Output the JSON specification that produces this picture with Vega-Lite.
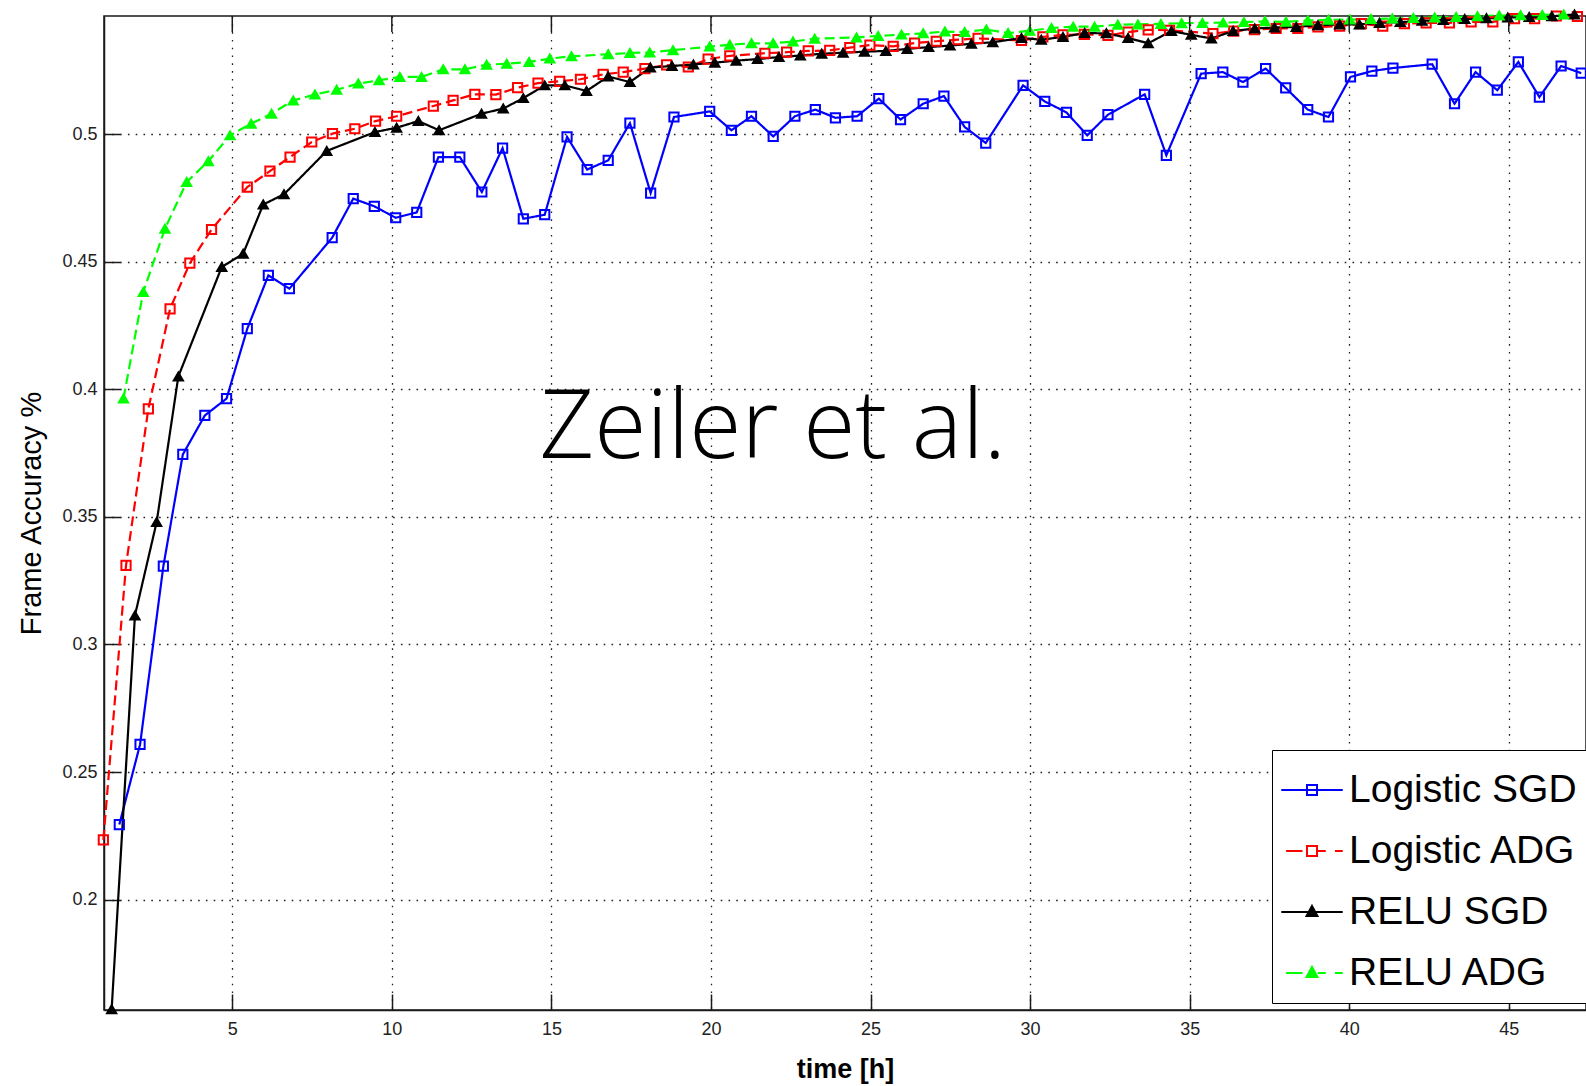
{
  "$schema": "https://vega.github.io/schema/vega-lite/v6.json",
  "width": 1482,
  "height": 994,
  "autosize": {"type": "none"},
  "padding": {"left": 104, "top": 16, "right": 0, "bottom": 76},
  "background": "white",
  "config": {
    "font": "Liberation Sans",
    "view": {"stroke": "#1a1a1a", "strokeWidth": 1.5},
    "axis": {
      "labelFont": "Liberation Sans", "labelFontSize": 18, "labelColor": "#222",
      "titleFont": "Liberation Sans", "titleColor": "#000",
      "domainColor": "#1a1a1a", "domainWidth": 1.5,
      "tickColor": "#1a1a1a", "tickWidth": 1.5,
      "gridColor": "#222", "gridDash": [1.6, 6.2], "gridWidth": 1.3, "gridOpacity": 1
    }
  },
  "resolve": {"scale": {"shape": "independent", "fill": "independent", "stroke": "independent"}},
  "datasets": {
    "note": [{"t": 21.94, "a": 0.3733, "label": "Zeiler et al."}],
    "xticks": [{"t": 5}, {"t": 10}, {"t": 15}, {"t": 20}, {"t": 25}, {"t": 30}, {"t": 35}, {"t": 40}, {"t": 45}],
    "acc": [
      {"s": "Logistic SGD", "t": 1.46, "a": 0.2294},
      {"s": "Logistic SGD", "t": 2.11, "a": 0.2608},
      {"s": "Logistic SGD", "t": 2.84, "a": 0.3307},
      {"s": "Logistic SGD", "t": 3.45, "a": 0.3745},
      {"s": "Logistic SGD", "t": 4.14, "a": 0.3898},
      {"s": "Logistic SGD", "t": 4.82, "a": 0.3964},
      {"s": "Logistic SGD", "t": 5.47, "a": 0.4238},
      {"s": "Logistic SGD", "t": 6.13, "a": 0.4447},
      {"s": "Logistic SGD", "t": 6.79, "a": 0.4395},
      {"s": "Logistic SGD", "t": 8.13, "a": 0.4595},
      {"s": "Logistic SGD", "t": 8.79, "a": 0.4748},
      {"s": "Logistic SGD", "t": 9.45, "a": 0.4718},
      {"s": "Logistic SGD", "t": 10.12, "a": 0.4673},
      {"s": "Logistic SGD", "t": 10.78, "a": 0.4694},
      {"s": "Logistic SGD", "t": 11.46, "a": 0.4911},
      {"s": "Logistic SGD", "t": 12.13, "a": 0.4911},
      {"s": "Logistic SGD", "t": 12.82, "a": 0.4774},
      {"s": "Logistic SGD", "t": 13.47, "a": 0.4946},
      {"s": "Logistic SGD", "t": 14.12, "a": 0.4669},
      {"s": "Logistic SGD", "t": 14.79, "a": 0.4685},
      {"s": "Logistic SGD", "t": 15.49, "a": 0.499},
      {"s": "Logistic SGD", "t": 16.12, "a": 0.4862},
      {"s": "Logistic SGD", "t": 16.78, "a": 0.4898},
      {"s": "Logistic SGD", "t": 17.46, "a": 0.5044},
      {"s": "Logistic SGD", "t": 18.11, "a": 0.477},
      {"s": "Logistic SGD", "t": 18.84, "a": 0.5068},
      {"s": "Logistic SGD", "t": 19.96, "a": 0.509},
      {"s": "Logistic SGD", "t": 20.64, "a": 0.5016},
      {"s": "Logistic SGD", "t": 21.27, "a": 0.5071},
      {"s": "Logistic SGD", "t": 21.95, "a": 0.4992},
      {"s": "Logistic SGD", "t": 22.63, "a": 0.5071},
      {"s": "Logistic SGD", "t": 23.27, "a": 0.5097},
      {"s": "Logistic SGD", "t": 23.9, "a": 0.5065},
      {"s": "Logistic SGD", "t": 24.58, "a": 0.5071},
      {"s": "Logistic SGD", "t": 25.26, "a": 0.514},
      {"s": "Logistic SGD", "t": 25.94, "a": 0.5058},
      {"s": "Logistic SGD", "t": 26.65, "a": 0.512},
      {"s": "Logistic SGD", "t": 27.3, "a": 0.515},
      {"s": "Logistic SGD", "t": 27.95, "a": 0.5029},
      {"s": "Logistic SGD", "t": 28.61, "a": 0.4966},
      {"s": "Logistic SGD", "t": 29.78, "a": 0.5192},
      {"s": "Logistic SGD", "t": 30.46, "a": 0.5129},
      {"s": "Logistic SGD", "t": 31.14, "a": 0.5086},
      {"s": "Logistic SGD", "t": 31.79, "a": 0.4996},
      {"s": "Logistic SGD", "t": 32.44, "a": 0.5077},
      {"s": "Logistic SGD", "t": 33.59, "a": 0.5157},
      {"s": "Logistic SGD", "t": 34.27, "a": 0.4918},
      {"s": "Logistic SGD", "t": 35.36, "a": 0.5238},
      {"s": "Logistic SGD", "t": 36.04, "a": 0.5244},
      {"s": "Logistic SGD", "t": 36.67, "a": 0.5205},
      {"s": "Logistic SGD", "t": 37.38, "a": 0.5258},
      {"s": "Logistic SGD", "t": 38.01, "a": 0.5182},
      {"s": "Logistic SGD", "t": 38.7, "a": 0.5097},
      {"s": "Logistic SGD", "t": 39.35, "a": 0.5068},
      {"s": "Logistic SGD", "t": 40.04, "a": 0.5225},
      {"s": "Logistic SGD", "t": 40.71, "a": 0.5248},
      {"s": "Logistic SGD", "t": 41.37, "a": 0.526},
      {"s": "Logistic SGD", "t": 42.6, "a": 0.5275},
      {"s": "Logistic SGD", "t": 43.3, "a": 0.512},
      {"s": "Logistic SGD", "t": 43.96, "a": 0.5244},
      {"s": "Logistic SGD", "t": 44.64, "a": 0.5173},
      {"s": "Logistic SGD", "t": 45.3, "a": 0.5284},
      {"s": "Logistic SGD", "t": 45.96, "a": 0.5146},
      {"s": "Logistic SGD", "t": 46.64, "a": 0.5268},
      {"s": "Logistic SGD", "t": 47.27, "a": 0.524},

      {"s": "Logistic ADG", "t": 0.96, "a": 0.2234},
      {"s": "Logistic ADG", "t": 1.67, "a": 0.331},
      {"s": "Logistic ADG", "t": 2.37, "a": 0.3924},
      {"s": "Logistic ADG", "t": 3.05, "a": 0.4316},
      {"s": "Logistic ADG", "t": 3.67, "a": 0.4495},
      {"s": "Logistic ADG", "t": 4.35, "a": 0.4627},
      {"s": "Logistic ADG", "t": 5.47, "a": 0.4793},
      {"s": "Logistic ADG", "t": 6.18, "a": 0.4856},
      {"s": "Logistic ADG", "t": 6.81, "a": 0.4911},
      {"s": "Logistic ADG", "t": 7.49, "a": 0.497},
      {"s": "Logistic ADG", "t": 8.14, "a": 0.5003},
      {"s": "Logistic ADG", "t": 8.84, "a": 0.5022},
      {"s": "Logistic ADG", "t": 9.49, "a": 0.5052},
      {"s": "Logistic ADG", "t": 10.15, "a": 0.5071},
      {"s": "Logistic ADG", "t": 11.3, "a": 0.5111},
      {"s": "Logistic ADG", "t": 11.92, "a": 0.5133},
      {"s": "Logistic ADG", "t": 12.6, "a": 0.5157},
      {"s": "Logistic ADG", "t": 13.26, "a": 0.5156},
      {"s": "Logistic ADG", "t": 13.94, "a": 0.5183},
      {"s": "Logistic ADG", "t": 14.58, "a": 0.5201},
      {"s": "Logistic ADG", "t": 15.26, "a": 0.5208},
      {"s": "Logistic ADG", "t": 15.91, "a": 0.5216},
      {"s": "Logistic ADG", "t": 16.62, "a": 0.5235},
      {"s": "Logistic ADG", "t": 17.25, "a": 0.5244},
      {"s": "Logistic ADG", "t": 17.93, "a": 0.5258},
      {"s": "Logistic ADG", "t": 18.61, "a": 0.5272},
      {"s": "Logistic ADG", "t": 19.29, "a": 0.5264},
      {"s": "Logistic ADG", "t": 19.91, "a": 0.5295},
      {"s": "Logistic ADG", "t": 20.59, "a": 0.5308},
      {"s": "Logistic ADG", "t": 21.69, "a": 0.5318},
      {"s": "Logistic ADG", "t": 22.37, "a": 0.5322},
      {"s": "Logistic ADG", "t": 23.05, "a": 0.5327},
      {"s": "Logistic ADG", "t": 23.72, "a": 0.5329},
      {"s": "Logistic ADG", "t": 24.35, "a": 0.534},
      {"s": "Logistic ADG", "t": 24.98, "a": 0.535},
      {"s": "Logistic ADG", "t": 25.71, "a": 0.5345},
      {"s": "Logistic ADG", "t": 26.38, "a": 0.5358},
      {"s": "Logistic ADG", "t": 27.06, "a": 0.5365},
      {"s": "Logistic ADG", "t": 27.74, "a": 0.5371},
      {"s": "Logistic ADG", "t": 28.37, "a": 0.5376},
      {"s": "Logistic ADG", "t": 29.73, "a": 0.5368},
      {"s": "Logistic ADG", "t": 30.4, "a": 0.5382},
      {"s": "Logistic ADG", "t": 31.03, "a": 0.539},
      {"s": "Logistic ADG", "t": 31.7, "a": 0.5392},
      {"s": "Logistic ADG", "t": 32.44, "a": 0.5388},
      {"s": "Logistic ADG", "t": 33.07, "a": 0.5401},
      {"s": "Logistic ADG", "t": 33.7, "a": 0.541},
      {"s": "Logistic ADG", "t": 34.37, "a": 0.5408},
      {"s": "Logistic ADG", "t": 35.73, "a": 0.5395},
      {"s": "Logistic ADG", "t": 36.38, "a": 0.5405},
      {"s": "Logistic ADG", "t": 37.03, "a": 0.5411},
      {"s": "Logistic ADG", "t": 37.71, "a": 0.5415},
      {"s": "Logistic ADG", "t": 38.39, "a": 0.5415},
      {"s": "Logistic ADG", "t": 39.02, "a": 0.5421},
      {"s": "Logistic ADG", "t": 39.7, "a": 0.5424},
      {"s": "Logistic ADG", "t": 40.38, "a": 0.5434},
      {"s": "Logistic ADG", "t": 41.05, "a": 0.5424},
      {"s": "Logistic ADG", "t": 41.73, "a": 0.5434},
      {"s": "Logistic ADG", "t": 42.41, "a": 0.5437},
      {"s": "Logistic ADG", "t": 43.14, "a": 0.5437},
      {"s": "Logistic ADG", "t": 43.82, "a": 0.5441},
      {"s": "Logistic ADG", "t": 44.5, "a": 0.5441},
      {"s": "Logistic ADG", "t": 45.18, "a": 0.5454},
      {"s": "Logistic ADG", "t": 45.81, "a": 0.5454},
      {"s": "Logistic ADG", "t": 46.49, "a": 0.5464},
      {"s": "Logistic ADG", "t": 47.15, "a": 0.5462},

      {"s": "RELU SGD", "t": 1.22, "a": 0.157},
      {"s": "RELU SGD", "t": 1.95, "a": 0.3114},
      {"s": "RELU SGD", "t": 2.63, "a": 0.348},
      {"s": "RELU SGD", "t": 3.31, "a": 0.4051},
      {"s": "RELU SGD", "t": 4.67, "a": 0.448},
      {"s": "RELU SGD", "t": 5.34, "a": 0.4532},
      {"s": "RELU SGD", "t": 5.97, "a": 0.4725},
      {"s": "RELU SGD", "t": 6.62, "a": 0.4765},
      {"s": "RELU SGD", "t": 7.96, "a": 0.4935},
      {"s": "RELU SGD", "t": 9.47, "a": 0.5009},
      {"s": "RELU SGD", "t": 10.15, "a": 0.5026},
      {"s": "RELU SGD", "t": 10.83, "a": 0.5052},
      {"s": "RELU SGD", "t": 11.48, "a": 0.5016},
      {"s": "RELU SGD", "t": 12.81, "a": 0.5081},
      {"s": "RELU SGD", "t": 13.49, "a": 0.5101},
      {"s": "RELU SGD", "t": 14.12, "a": 0.5142},
      {"s": "RELU SGD", "t": 14.79, "a": 0.5192},
      {"s": "RELU SGD", "t": 15.42, "a": 0.5192},
      {"s": "RELU SGD", "t": 16.1, "a": 0.517},
      {"s": "RELU SGD", "t": 16.78, "a": 0.5227},
      {"s": "RELU SGD", "t": 17.46, "a": 0.5205},
      {"s": "RELU SGD", "t": 18.1, "a": 0.5262},
      {"s": "RELU SGD", "t": 18.78, "a": 0.5268},
      {"s": "RELU SGD", "t": 19.45, "a": 0.5274},
      {"s": "RELU SGD", "t": 20.12, "a": 0.5281},
      {"s": "RELU SGD", "t": 20.79, "a": 0.5289},
      {"s": "RELU SGD", "t": 21.46, "a": 0.5295},
      {"s": "RELU SGD", "t": 22.13, "a": 0.5303},
      {"s": "RELU SGD", "t": 22.8, "a": 0.5309},
      {"s": "RELU SGD", "t": 23.47, "a": 0.5316},
      {"s": "RELU SGD", "t": 24.14, "a": 0.532},
      {"s": "RELU SGD", "t": 24.81, "a": 0.5324},
      {"s": "RELU SGD", "t": 25.48, "a": 0.5327},
      {"s": "RELU SGD", "t": 26.15, "a": 0.5335},
      {"s": "RELU SGD", "t": 26.82, "a": 0.5342},
      {"s": "RELU SGD", "t": 27.49, "a": 0.5348},
      {"s": "RELU SGD", "t": 28.16, "a": 0.5355},
      {"s": "RELU SGD", "t": 28.83, "a": 0.5361},
      {"s": "RELU SGD", "t": 29.73, "a": 0.5378},
      {"s": "RELU SGD", "t": 30.35, "a": 0.5371},
      {"s": "RELU SGD", "t": 31.03, "a": 0.5382},
      {"s": "RELU SGD", "t": 31.71, "a": 0.5397},
      {"s": "RELU SGD", "t": 32.39, "a": 0.5396},
      {"s": "RELU SGD", "t": 33.07, "a": 0.5378},
      {"s": "RELU SGD", "t": 33.7, "a": 0.5357},
      {"s": "RELU SGD", "t": 34.43, "a": 0.5405},
      {"s": "RELU SGD", "t": 35.05, "a": 0.539},
      {"s": "RELU SGD", "t": 35.68, "a": 0.5376},
      {"s": "RELU SGD", "t": 36.36, "a": 0.5405},
      {"s": "RELU SGD", "t": 37.04, "a": 0.5415},
      {"s": "RELU SGD", "t": 37.66, "a": 0.5419},
      {"s": "RELU SGD", "t": 38.34, "a": 0.5421},
      {"s": "RELU SGD", "t": 39.02, "a": 0.5428},
      {"s": "RELU SGD", "t": 39.7, "a": 0.5431},
      {"s": "RELU SGD", "t": 40.32, "a": 0.5431},
      {"s": "RELU SGD", "t": 40.95, "a": 0.5437},
      {"s": "RELU SGD", "t": 41.6, "a": 0.544},
      {"s": "RELU SGD", "t": 42.28, "a": 0.5445},
      {"s": "RELU SGD", "t": 42.95, "a": 0.5448},
      {"s": "RELU SGD", "t": 43.62, "a": 0.5452},
      {"s": "RELU SGD", "t": 44.3, "a": 0.5455},
      {"s": "RELU SGD", "t": 44.97, "a": 0.5458},
      {"s": "RELU SGD", "t": 45.64, "a": 0.546},
      {"s": "RELU SGD", "t": 46.35, "a": 0.5463},
      {"s": "RELU SGD", "t": 47.06, "a": 0.547},

      {"s": "RELU ADG", "t": 1.59, "a": 0.3964},
      {"s": "RELU ADG", "t": 2.21, "a": 0.4382},
      {"s": "RELU ADG", "t": 2.89, "a": 0.463},
      {"s": "RELU ADG", "t": 3.57, "a": 0.4813},
      {"s": "RELU ADG", "t": 4.25, "a": 0.4895},
      {"s": "RELU ADG", "t": 4.93, "a": 0.4996},
      {"s": "RELU ADG", "t": 5.59, "a": 0.5042},
      {"s": "RELU ADG", "t": 6.23, "a": 0.5081},
      {"s": "RELU ADG", "t": 6.91, "a": 0.5133},
      {"s": "RELU ADG", "t": 7.59, "a": 0.5156},
      {"s": "RELU ADG", "t": 8.27, "a": 0.5175},
      {"s": "RELU ADG", "t": 8.95, "a": 0.5199},
      {"s": "RELU ADG", "t": 9.6, "a": 0.5212},
      {"s": "RELU ADG", "t": 10.25, "a": 0.5225},
      {"s": "RELU ADG", "t": 10.93, "a": 0.5225},
      {"s": "RELU ADG", "t": 11.61, "a": 0.5255},
      {"s": "RELU ADG", "t": 12.29, "a": 0.5255},
      {"s": "RELU ADG", "t": 12.97, "a": 0.5273},
      {"s": "RELU ADG", "t": 13.6, "a": 0.5277},
      {"s": "RELU ADG", "t": 14.3, "a": 0.5284},
      {"s": "RELU ADG", "t": 14.95, "a": 0.5297},
      {"s": "RELU ADG", "t": 15.63, "a": 0.5306},
      {"s": "RELU ADG", "t": 16.78, "a": 0.5314},
      {"s": "RELU ADG", "t": 17.46, "a": 0.5319},
      {"s": "RELU ADG", "t": 18.08, "a": 0.5321},
      {"s": "RELU ADG", "t": 18.81, "a": 0.533},
      {"s": "RELU ADG", "t": 19.96, "a": 0.5344},
      {"s": "RELU ADG", "t": 20.59, "a": 0.5351},
      {"s": "RELU ADG", "t": 21.27, "a": 0.5357},
      {"s": "RELU ADG", "t": 21.95, "a": 0.5357},
      {"s": "RELU ADG", "t": 22.57, "a": 0.5364},
      {"s": "RELU ADG", "t": 23.25, "a": 0.5375},
      {"s": "RELU ADG", "t": 24.56, "a": 0.538},
      {"s": "RELU ADG", "t": 25.24, "a": 0.5386},
      {"s": "RELU ADG", "t": 25.97, "a": 0.5391},
      {"s": "RELU ADG", "t": 26.65, "a": 0.5396},
      {"s": "RELU ADG", "t": 27.33, "a": 0.5403},
      {"s": "RELU ADG", "t": 27.95, "a": 0.5401},
      {"s": "RELU ADG", "t": 28.63, "a": 0.5411},
      {"s": "RELU ADG", "t": 29.31, "a": 0.5397},
      {"s": "RELU ADG", "t": 29.99, "a": 0.5406},
      {"s": "RELU ADG", "t": 30.67, "a": 0.5417},
      {"s": "RELU ADG", "t": 31.35, "a": 0.5422},
      {"s": "RELU ADG", "t": 32.02, "a": 0.5422},
      {"s": "RELU ADG", "t": 32.75, "a": 0.543},
      {"s": "RELU ADG", "t": 33.38, "a": 0.5431},
      {"s": "RELU ADG", "t": 34.1, "a": 0.5433},
      {"s": "RELU ADG", "t": 34.75, "a": 0.5436},
      {"s": "RELU ADG", "t": 35.4, "a": 0.5437},
      {"s": "RELU ADG", "t": 36.05, "a": 0.5438},
      {"s": "RELU ADG", "t": 36.7, "a": 0.544},
      {"s": "RELU ADG", "t": 37.36, "a": 0.5443},
      {"s": "RELU ADG", "t": 38.02, "a": 0.5441},
      {"s": "RELU ADG", "t": 38.7, "a": 0.5446},
      {"s": "RELU ADG", "t": 39.35, "a": 0.5449},
      {"s": "RELU ADG", "t": 40.02, "a": 0.545},
      {"s": "RELU ADG", "t": 40.68, "a": 0.5452},
      {"s": "RELU ADG", "t": 41.35, "a": 0.5454},
      {"s": "RELU ADG", "t": 42.01, "a": 0.5456},
      {"s": "RELU ADG", "t": 42.68, "a": 0.5458},
      {"s": "RELU ADG", "t": 43.35, "a": 0.546},
      {"s": "RELU ADG", "t": 44.02, "a": 0.5463},
      {"s": "RELU ADG", "t": 44.7, "a": 0.5466},
      {"s": "RELU ADG", "t": 45.37, "a": 0.5467},
      {"s": "RELU ADG", "t": 46.05, "a": 0.5468},
      {"s": "RELU ADG", "t": 46.72, "a": 0.547}
    ]
  },
  "layer": [
    {
      "data": {"name": "acc"},
      "mark": {"type": "line", "strokeWidth": 2.2, "clip": false},
      "encoding": {
        "x": {"field": "t", "type": "quantitative", "scale": {"domain": [0.98, 47.42], "nice": false, "zero": false},
          "axis": {"orient": "bottom", "values": [5, 10, 15, 20, 25, 30, 35, 40, 45], "format": "d", "tickSize": -16, "labelPadding": 26, "title": "time [h]", "titleFontSize": 27, "titleFontWeight": "bold", "titlePadding": 18, "grid": true, "labelFlush": false, "labelOverlap": false}},
        "y": {"field": "a", "type": "quantitative", "scale": {"domain": [0.1567, 0.5464], "nice": false, "zero": false},
          "axis": {"orient": "left", "values": [0.2, 0.25, 0.3, 0.35, 0.4, 0.45, 0.5], "format": "~g", "tickSize": -16, "labelPadding": 23, "title": "Frame Accuracy %", "titleFontSize": 29, "titleFontWeight": "normal", "titlePadding": 15, "grid": true, "labelFlush": false, "labelOverlap": false}},
        "color": {"field": "s", "type": "nominal",
          "scale": {"domain": ["Logistic SGD", "Logistic ADG", "RELU SGD", "RELU ADG"], "range": ["#0000ff", "#ff0000", "#000000", "#00ff00"]},
          "legend": null},
        "strokeDash": {"field": "s", "type": "nominal",
          "scale": {"domain": ["Logistic SGD", "Logistic ADG", "RELU SGD", "RELU ADG"], "range": [[1, 0], [10, 5], [1, 0], [10, 5]]},
          "legend": null},
        "order": {"field": "t", "type": "quantitative"}
      }
    },
    {
      "data": {"name": "acc"},
      "mark": {"type": "point", "size": 85, "strokeWidth": 2, "opacity": 1, "clip": false},
      "encoding": {
        "x": {"field": "t", "type": "quantitative"},
        "y": {"field": "a", "type": "quantitative"},
        "shape": {"field": "s", "type": "nominal",
          "scale": {"domain": ["Logistic SGD", "Logistic ADG", "RELU SGD", "RELU ADG"], "range": ["square", "square", "triangle-up", "triangle-up"]},
          "legend": null},
        "stroke": {"field": "s", "type": "nominal",
          "scale": {"domain": ["Logistic SGD", "Logistic ADG", "RELU SGD", "RELU ADG"], "range": ["#0000ff", "#ff0000", "#000000", "#00ff00"]},
          "legend": null},
        "fill": {"field": "s", "type": "nominal",
          "scale": {"domain": ["Logistic SGD", "Logistic ADG", "RELU SGD", "RELU ADG"], "range": ["transparent", "transparent", "#000000", "#00ff00"]},
          "legend": null}
      }
    },
    {
      "data": {"name": "xticks"},
      "mark": {"type": "rule", "color": "#1a1a1a", "strokeWidth": 1.5},
      "encoding": {
        "x": {"field": "t", "type": "quantitative"},
        "y": {"datum": 0.5464, "type": "quantitative"},
        "y2": {"datum": 0.54013}
      }
    },
    {
      "data": {"name": "note"},
      "mark": {"type": "text", "font": "Open Sans", "fontWeight": 300, "fontSize": 95, "color": "#000", "align": "center", "baseline": "alphabetic"},
      "encoding": {
        "x": {"field": "t", "type": "quantitative"},
        "y": {"field": "a", "type": "quantitative"},
        "text": {"field": "label"}
      }
    },
    {
      "data": {"name": "acc"},
      "transform": [{"filter": "datum.t < 0"}],
      "mark": {"type": "point", "strokeWidth": 2, "opacity": 1},
      "encoding": {
        "x": {"field": "t", "type": "quantitative"},
        "y": {"field": "a", "type": "quantitative"},
        "shape": {"field": "s", "type": "nominal",
          "scale": {"domain": ["Logistic SGD", "Logistic ADG", "RELU SGD", "RELU ADG"],
            "range": [
              "M-1.07,0H1.07M-0.175,-0.175H0.175V0.175H-0.175Z",
              "M-0.9,0H-0.33M0.2,0H0.48M0.8,0H1.07M-0.175,-0.175H0.175V0.175H-0.175Z",
              "M-1.07,0H1.07M0,-0.21L0.19,0.14H-0.19Z",
              "M-0.9,0H-0.33M0.2,0H0.48M0.8,0H1.07M0,-0.21L0.19,0.14H-0.19Z"
            ]},
          "legend": {"title": null, "orient": "none", "legendX": 1168, "legendY": 734, "labelFont": "Liberation Sans", "labelFontSize": 39, "labelColor": "#000", "labelLimit": 500, "labelOffset": 7, "symbolSize": 3300, "symbolStrokeWidth": 2, "rowPadding": 11, "padding": 10, "strokeColor": "#000", "fillColor": "#ffffff", "cornerRadius": 0}},
        "fill": {"field": "s", "type": "nominal",
          "scale": {"domain": ["Logistic SGD", "Logistic ADG", "RELU SGD", "RELU ADG"], "range": ["transparent", "transparent", "#000000", "#00ff00"]},
          "legend": {"title": null, "orient": "none", "legendX": 1168, "legendY": 734, "labelFont": "Liberation Sans", "labelFontSize": 39, "labelColor": "#000", "labelLimit": 500, "labelOffset": 7, "symbolSize": 3300, "symbolStrokeWidth": 2, "rowPadding": 11, "padding": 10, "strokeColor": "#000", "fillColor": "#ffffff", "cornerRadius": 0}},
        "stroke": {"field": "s", "type": "nominal",
          "scale": {"domain": ["Logistic SGD", "Logistic ADG", "RELU SGD", "RELU ADG"], "range": ["#0000ff", "#ff0000", "#000000", "#00ff00"]},
          "legend": {"title": null, "orient": "none", "legendX": 1168, "legendY": 734, "labelFont": "Liberation Sans", "labelFontSize": 39, "labelColor": "#000", "labelLimit": 500, "labelOffset": 7, "symbolSize": 3300, "symbolStrokeWidth": 2, "rowPadding": 11, "padding": 10, "strokeColor": "#000", "fillColor": "#ffffff", "cornerRadius": 0}}
      }
    }
  ]
}
